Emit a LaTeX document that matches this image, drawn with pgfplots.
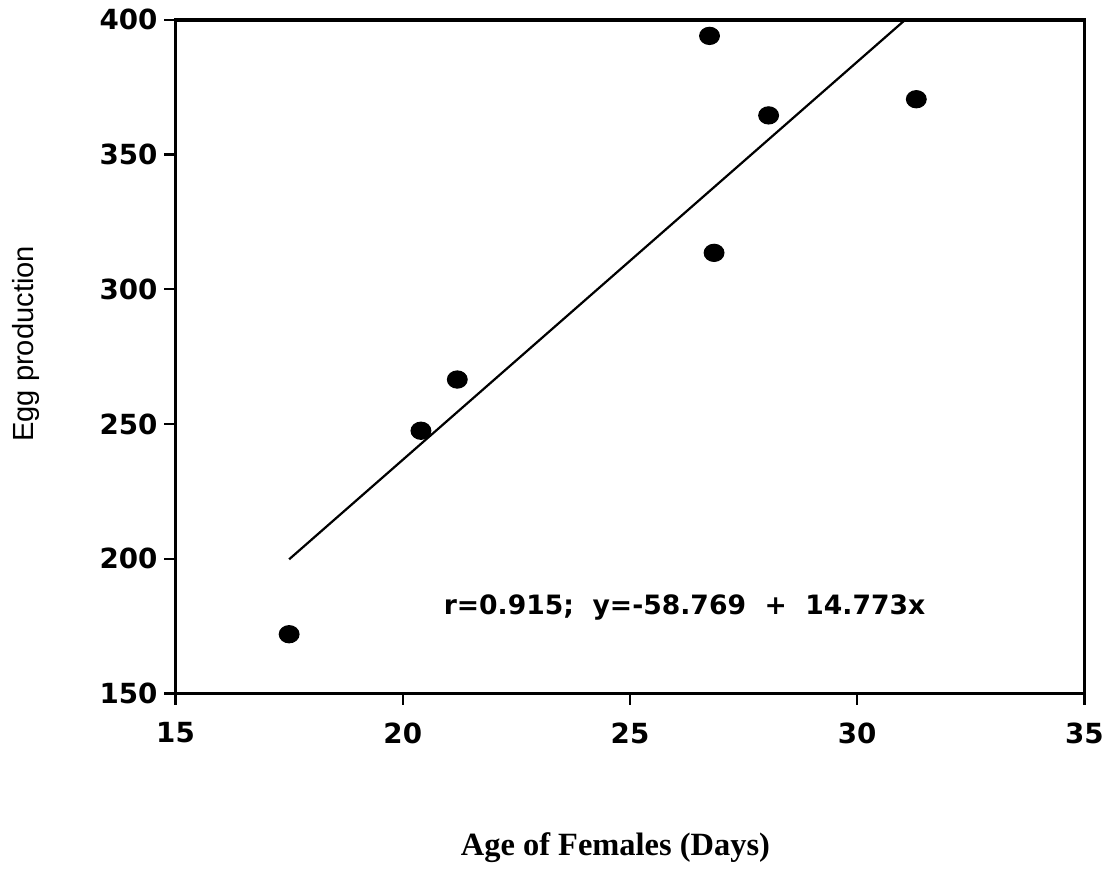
\documentclass[border=0pt]{standalone}
\usepackage{fontspec}
\setmainfont{Liberation Serif}
\newfontfamily\ticksf{DejaVu Sans}
\newfontfamily\labsf{Liberation Sans}
\usepackage{pgfplots}
\pgfplotsset{compat=1.18}

\begin{document}
\begin{tikzpicture}
\begin{axis}[
  scale only axis,
  width=327.8pt, height=243pt,
  xmin=15, xmax=35, ymin=150, ymax=400,
  xtick={15,20,...,35}, ytick={150,200,...,400},
  xtick pos=bottom, ytick pos=left,
  tick align=outside,
  major tick length=4pt,
  axis line style={line width=1.4pt},
  every tick/.style={black, line width=0.8pt},
  tick label style={font=\ticksf\bfseries\fontsize{10}{12}\selectfont},
  /pgf/number format/assume math mode=true,
  xticklabel style={yshift=-3pt},
  yticklabel style={xshift=1pt},
  xlabel={\bfseries Age of Females (Days)},
  xlabel style={at={(axis description cs:0.484,0)}, anchor=center, yshift=-55.5pt, font=\fontsize{11.7}{13}\selectfont},
  ylabel={Egg production},
  ylabel style={at={(axis description cs:-0.165,0.519)}, anchor=center, font=\labsf\fontsize{10.5}{12}\selectfont},
  clip=true,
]
% observations
\addplot[only marks, mark=*, mark size=3.1pt, mark options={xscale=1.15, fill=black}] coordinates {
  (17.5,172) (20.4,247.5) (21.2,266.5) (26.75,394) (26.85,313.5) (28.05,364.5) (31.3,370.5)
};
% fitted line y = -58.769 + 14.773x
\addplot[black, line width=0.8pt] coordinates {
  (17.5,199.8) (31.2,402.1)
};
\node[font=\ticksf\bfseries\fontsize{9.6}{11}\selectfont] at (axis cs:26.2,182) {r=0.915;\ \ y=-58.769\ \ +\ \ 14.773x};
\end{axis}
\path (current axis.south west) ++(-63.3pt,-61.5pt);
\path (current axis.north east) ++(9pt,6.1pt);
\end{tikzpicture}
\end{document}
